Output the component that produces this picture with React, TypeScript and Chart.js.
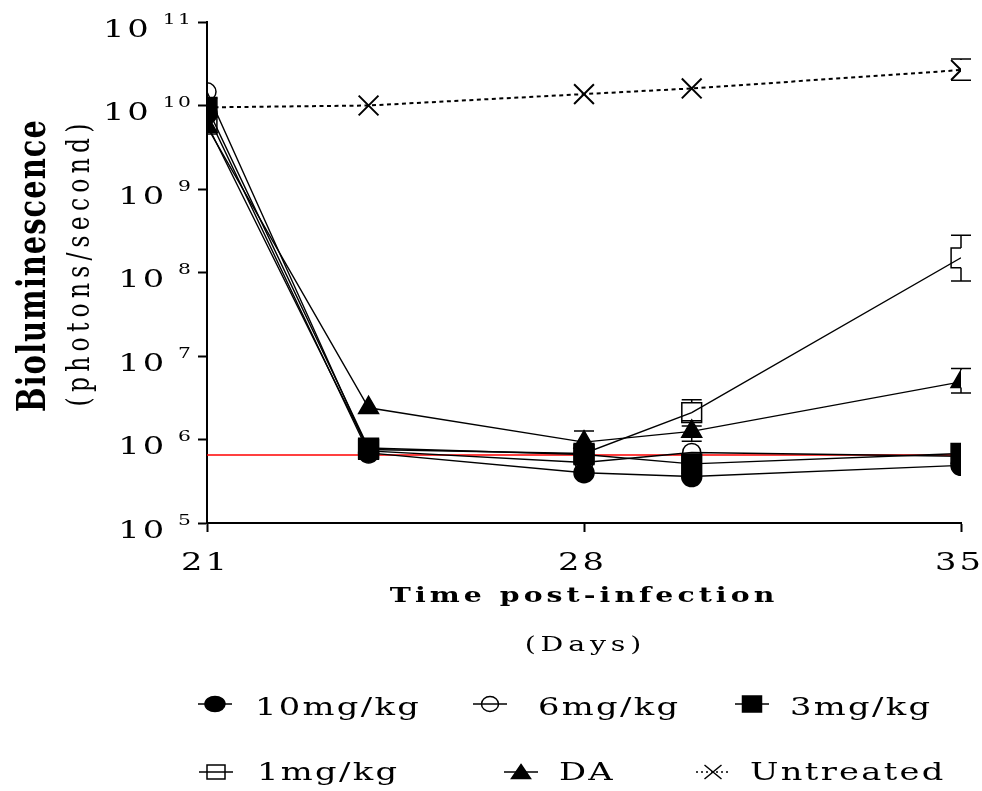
import React, { useEffect, useRef } from 'react';
import { Chart, registerables } from 'chart.js';

Chart.register(...registerables);

// ---------- data ----------
const days = [21, 24, 28, 30, 35];
const dose10 = [8.0e9, 6.9e5, 4.0e5, 3.6e5, 4.9e5];
const dose6 = [1.46e10, 7.3e5, 5.3e5, 7.0e5, 6.3e5];
const dose3 = [9.5e9, 7.9e5, 6.6e5, 5.1e5, 6.8e5];
const dose1 = [6.0e9, 7.6e5, 6.8e5, 2.1e6, 1.5e8];
const daValues = [5.6e9, 2.4e6, 9.3e5, 1.25e6, 4.9e6];
const untreated = [9.5e9, 1.0e10, 1.37e10, 1.6e10, 2.66e10];

const dose1Low = [null, null, null, 1.68e6, 7.9e7];
const dose1High = [null, null, null, 3.0e6, 2.8e8];
const daLow = [null, null, 7.0e5, 0.95e6, 3.6e6];
const daHigh = [null, null, 1.26e6, 1.45e6, 7.1e6];
const untreatedLow = [null, null, null, null, 2.0e10];
const untreatedHigh = [null, null, null, null, 3.6e10];

const thresholdDays = [21, 35];
const thresholdValue = 6.5e5;

const seriesLabels = ['10mg/kg', '6mg/kg', '3mg/kg', '1mg/kg', 'DA', 'Untreated'];
const xTickValues = [21, 28, 35];
const yTickExponents = [5, 6, 7, 8, 9, 10, 11];
const xTitle = 'Time post-infection';
const xSubtitle = '(Days)';
const yTitle = 'Bioluminescence';
const ySubtitle = '(photons/second)';

// ---------- styles ----------
const FAMILY = '"DejaVu Serif", serif';
const SX = 1.35;

const seriesValues = [dose10, dose6, dose3, dose1, daValues, untreated];
const markerStyles = [
  { shape: 'circle', radius: 10, filled: true, lw: [20, 15] },
  { shape: 'circle', radius: 9, filled: false, lw: [17, 15] },
  { shape: 'rect', radius: 14, filled: true, lw: [19, 16] },
  { shape: 'rect', radius: 14, filled: false, lw: [18, 14] },
  { shape: 'triangle', radius: 11.5, filled: true, lw: [19, 13] },
  { shape: 'crossRot', radius: 14, filled: false, lw: [17, 14] },
];
const errorSpecs = [
  { series: 3, low: dose1Low, high: dose1High },
  { series: 4, low: daLow, high: daHigh },
  { series: 5, low: untreatedLow, high: untreatedHigh },
];
const legendSlots = [
  { mx: 215, tx: 255, my: 704, ty: 715 },
  { mx: 490, tx: 538, my: 704, ty: 715 },
  { mx: 752, tx: 790, my: 704, ty: 715 },
  { mx: 216, tx: 257, my: 772, ty: 780 },
  { mx: 521, tx: 559, my: 772, ty: 780 },
  { mx: 713, tx: 750, my: 772, ty: 780 },
];

function drawText(
  ctx: CanvasRenderingContext2D,
  text: string,
  x: number,
  y: number,
  size: number,
  opts: { bold?: boolean; ls?: number; align?: string; rotate?: boolean } = {}
) {
  const ls = opts.ls ?? 0;
  ctx.save();
  ctx.font = `${opts.bold ? 'bold ' : ''}${size}px ${FAMILY}`;
  (ctx as any).letterSpacing = `${ls}px`;
  ctx.textAlign = 'left';
  ctx.textBaseline = 'alphabetic';
  ctx.fillStyle = '#000';
  const w = ctx.measureText(text).width - ls;
  ctx.translate(x, y);
  ctx.scale(SX, 1);
  if (opts.rotate) ctx.rotate(-Math.PI / 2);
  const align = opts.align ?? 'left';
  const off = align === 'center' ? -w / 2 : align === 'right' ? -w : 0;
  ctx.fillText(text, off, 0);
  ctx.restore();
  return opts.rotate ? w : w * SX;
}

function drawLegendMarker(ctx: CanvasRenderingContext2D, style: any, x: number, y: number) {
  const [w, h] = style.lw;
  ctx.save();
  ctx.fillStyle = '#000';
  ctx.strokeStyle = '#000';
  ctx.lineWidth = 1.5;
  ctx.beginPath();
  if (style.shape === 'circle') {
    ctx.ellipse(x, y, w / 2, h / 2, 0, 0, Math.PI * 2);
  } else if (style.shape === 'rect') {
    ctx.rect(x - w / 2, y - h / 2, w, h);
  } else if (style.shape === 'triangle') {
    ctx.moveTo(x, y - h / 2 - 1);
    ctx.lineTo(x + w / 2, y + h / 2);
    ctx.lineTo(x - w / 2, y + h / 2);
    ctx.closePath();
  } else {
    ctx.moveTo(x - w / 2, y - h / 2);
    ctx.lineTo(x + w / 2, y + h / 2);
    ctx.moveTo(x + w / 2, y - h / 2);
    ctx.lineTo(x - w / 2, y + h / 2);
  }
  if (style.filled) ctx.fill();
  ctx.stroke();
  ctx.restore();
}

const decorPlugin = {
  id: 'decor',
  beforeDatasetsDraw(chart: any) {
    const ctx: CanvasRenderingContext2D = chart.ctx;
    const xs = chart.scales.x;
    const ys = chart.scales.y;
    ctx.save();
    ctx.strokeStyle = '#000';
    ctx.lineWidth = 1.5;
    errorSpecs.forEach((spec) => {
      const st = markerStyles[spec.series];
      const vals = seriesValues[spec.series];
      let up = st.radius;
      let down = st.radius;
      if (st.shape === 'rect' || st.shape === 'crossRot') {
        up = down = st.radius * Math.SQRT1_2;
      } else if (st.shape === 'triangle') {
        down = st.radius / 2;
      }
      days.forEach((d, j) => {
        const hi = spec.high[j];
        const lo = spec.low[j];
        const x = xs.getPixelForValue(d);
        const yc = ys.getPixelForValue(vals[j]);
        ctx.beginPath();
        if (hi != null) {
          const yh = ys.getPixelForValue(hi);
          if (yh < yc - up) {
            ctx.moveTo(x, yh);
            ctx.lineTo(x, yc - up);
          }
          ctx.moveTo(x - 10, yh);
          ctx.lineTo(x + 10, yh);
        }
        if (lo != null) {
          const yl = ys.getPixelForValue(lo);
          if (yl > yc + down) {
            ctx.moveTo(x, yc + down);
            ctx.lineTo(x, yl);
          }
          ctx.moveTo(x - 10, yl);
          ctx.lineTo(x + 10, yl);
        }
        ctx.stroke();
      });
    });
    ctx.restore();
  },
  afterDraw(chart: any) {
    const ctx: CanvasRenderingContext2D = chart.ctx;
    const xs = chart.scales.x;
    const ys = chart.scales.y;
    // y tick labels 10^n
    yTickExponents.forEach((e) => {
      const py = ys.getPixelForValue(Math.pow(10, e));
      const we = drawText(ctx, String(e), 191, py + 1.5, 15, { ls: 1.8, align: 'right' });
      drawText(ctx, '10', 191 - we - 14, py + 14.5, 25, { ls: 2.2, align: 'right' });
    });
    // x tick labels
    xTickValues.forEach((v) => {
      const px = xs.getPixelForValue(v);
      drawText(ctx, String(v), px - 3, 570, 25, { ls: 2.2, align: 'center' });
    });
    const cx = (chart.chartArea.left + chart.chartArea.right) / 2;
    drawText(ctx, xTitle, cx - 2, 602, 21, { bold: true, ls: 3, align: 'center' });
    drawText(ctx, xSubtitle, cx - 1, 651, 21, { ls: 3.6, align: 'center' });
    drawText(ctx, yTitle, 45, 266, 29, { bold: true, ls: 1, align: 'center', rotate: true });
    drawText(ctx, ySubtitle, 89, 265, 23.5, { ls: 5.2, align: 'center', rotate: true });
    // legend
    seriesLabels.forEach((label, i) => {
      const slot = legendSlots[i];
      const st = markerStyles[i];
      ctx.save();
      ctx.strokeStyle = '#000';
      ctx.lineWidth = 1.5;
      if (i === 5) ctx.setLineDash([2, 3]);
      ctx.beginPath();
      ctx.moveTo(slot.mx - 17, slot.my);
      ctx.lineTo(slot.mx + 17, slot.my);
      ctx.stroke();
      ctx.restore();
      drawLegendMarker(ctx, st, slot.mx, slot.my);
      drawText(ctx, label, slot.tx, slot.ty, 25, { ls: 1.7 });
    });
  },
};

export default function App() {
  const ref = useRef<HTMLCanvasElement>(null);
  useEffect(() => {
    const canvas = ref.current;
    if (!canvas) return;
    const datasets: any[] = seriesValues.map((vals, i) => {
      const st = markerStyles[i];
      return {
        label: seriesLabels[i],
        data: days.map((d, j) => ({ x: d, y: vals[j] })),
        borderColor: '#000',
        borderWidth: i === 5 ? 2 : 1.4,
        borderDash: i === 5 ? [4, 3.5] : [],
        pointStyle: st.shape,
        pointRadius: st.radius,
        pointBackgroundColor: st.filled ? '#000' : 'rgba(0,0,0,0)',
        pointBorderColor: '#000',
        pointBorderWidth: i === 5 ? 2 : 1.5,
        fill: false,
        tension: 0,
      };
    });
    datasets.push({
      label: 'threshold',
      data: thresholdDays.map((d) => ({ x: d, y: thresholdValue })),
      borderColor: '#ff0000',
      borderWidth: 1.5,
      pointRadius: 0,
      fill: false,
    });
    const chart = new Chart(canvas, {
      type: 'line',
      data: { datasets },
      options: {
        responsive: false,
        maintainAspectRatio: false,
        devicePixelRatio: 1,
        animation: false,
        events: [],
        layout: { padding: { left: 0, right: 21, top: 22, bottom: 0 } },
        plugins: { legend: { display: false }, tooltip: { enabled: false } },
        scales: {
          x: {
            type: 'linear',
            min: 21,
            max: 35,
            afterBuildTicks: (s: any) => {
              s.ticks = xTickValues.map((v) => ({ value: v }));
            },
            afterFit: (s: any) => {
              s.height = 791 - 523;
              s.paddingLeft = 0;
              s.paddingRight = 0;
            },
            ticks: { display: false },
            grid: {
              display: true,
              drawOnChartArea: false,
              drawTicks: true,
              tickLength: 9,
              tickWidth: 2,
              tickColor: '#000',
            },
            border: { display: true, color: '#000', width: 2 },
          },
          y: {
            type: 'logarithmic',
            min: 1e5,
            max: 1e11,
            afterBuildTicks: (s: any) => {
              s.ticks = yTickExponents.map((e) => ({ value: Math.pow(10, e) }));
            },
            afterFit: (s: any) => {
              s.width = 207;
              s.paddingTop = 0;
              s.paddingBottom = 0;
            },
            ticks: { display: false },
            grid: {
              display: true,
              drawOnChartArea: false,
              drawTicks: true,
              tickLength: 9,
              tickWidth: 2,
              tickColor: '#000',
            },
            border: { display: true, color: '#000', width: 2 },
          },
        },
      } as any,
      plugins: [decorPlugin],
    });
    return () => chart.destroy();
  }, []);
  return (
    <div style={{ position: 'absolute', left: 0, top: 0, width: 982, height: 791, background: '#fff' }}>
      <canvas ref={ref} width={982} height={791} style={{ display: 'block', width: 982, height: 791 }} />
    </div>
  );
}
